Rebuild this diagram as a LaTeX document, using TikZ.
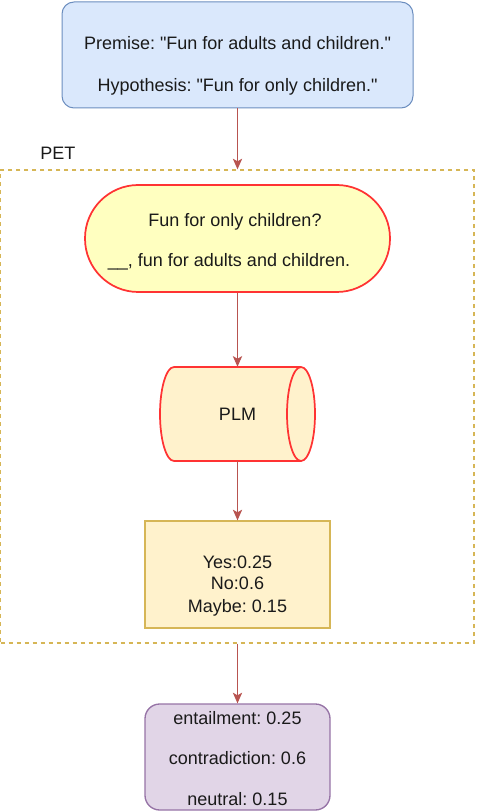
\documentclass[tikz,border=0pt]{standalone}
\usepackage{fontspec}
\setmainfont{Liberation Sans}[Ligatures=TeXOff]
\usetikzlibrary{arrows.meta}
\definecolor{bluefill}{HTML}{DAE8FC}
\definecolor{bluestroke}{HTML}{6C8EBF}
\definecolor{yelfill}{HTML}{FFFFC0}
\definecolor{redstroke}{HTML}{FF3333}
\definecolor{creamfill}{HTML}{FFF2CC}
\definecolor{goldstroke}{HTML}{D6B656}
\definecolor{purplefill}{HTML}{E1D5E7}
\definecolor{purplestroke}{HTML}{9673A6}
\definecolor{arrowred}{HTML}{B85450}
\definecolor{txt}{HTML}{1A1A1A}
\tikzset{
  txtnode/.style={inner sep=0pt, anchor=base, text=txt, font=\fontsize{13.5}{16}\selectfont\frenchspacing},
  box/.style={inner sep=0pt, line width=0.75pt},
  conn/.style={draw=arrowred, line width=0.75pt, -{Stealth[length=8pt,width=7pt,inset=2pt]}},
}
\begin{document}
\begin{tikzpicture}[x=0.75pt,y=0.75pt]
\useasboundingbox (0,0) rectangle (476,-812);
% top box
\node[box, draw=bluestroke, fill=bluefill, rounded corners=9pt,
      minimum width=263.25pt, minimum height=79.5pt] (top) at (237.5,-55) {};
\node[txtnode] (prem) at (237.5,-50) {Premise: "Fun for adults and children."};
\node[txtnode] (hyp) at (237.5,-92) {Hypothesis: "Fun for only children."};
% PET dashed container
\node[box, draw=goldstroke, line width=1pt, dash pattern=on 3pt off 3pt,
      minimum width=355pt, minimum height=354.75pt] (pet) at (237.25,-406.5) {};
\node[txtnode, anchor=base west] (petlabel) at (40,-160) {PET};
% yellow terminator
\node[box, draw=redstroke, fill=yelfill, line width=1.3pt, rounded corners=40pt,
      minimum width=228.75pt, minimum height=80.25pt] (prompt) at (237.5,-238.5) {};
\node[txtnode] (q1) at (235,-227) {Fun for only children?};
\node[txtnode] (q2) at (229,-267) {\_\_, fun for adults and children.};
% cylinder PLM
\fill[creamfill] (174,-367) -- (301,-367)
  arc[start angle=90, end angle=-90, x radius=14, y radius=47]
  -- (174,-461)
  arc[start angle=270, end angle=90, x radius=14, y radius=47] -- cycle;
\draw[redstroke, line width=1.3pt] (301,-367) -- (174,-367)
  arc[start angle=90, end angle=270, x radius=14, y radius=47] -- (301,-461);
\draw[redstroke, line width=1.3pt] (301,-414) ellipse[x radius=14, y radius=47];
\node[inner sep=0pt, minimum width=116.25pt, minimum height=70.5pt] (plm) at (237.5,-414) {};
\node[txtnode] (plmtext) at (237.5,-420) {PLM};
% output rectangle
\node[box, draw=goldstroke, fill=creamfill, line width=1pt,
      minimum width=138.75pt, minimum height=80.25pt] (out) at (237.5,-574.5) {};
\node[txtnode] (yes) at (237.5,-568) {Yes:0.25};
\node[txtnode] (no) at (237.5,-589) {No:0.6};
\node[txtnode] (maybe) at (237.5,-612) {Maybe: 0.15};
% purple result
\node[box, draw=purplestroke, fill=purplefill, rounded corners=11pt, line width=1pt,
      minimum width=138.75pt, minimum height=79.5pt] (res) at (237.5,-757) {};
\node[txtnode] (ent) at (237.5,-724) {entailment: 0.25};
\node[txtnode] (con) at (237.5,-764) {contradiction: 0.6};
\node[txtnode] (neu) at (237.5,-805) {neutral: 0.15};
% connectors
\draw[conn] (top.south) -- (top.south |- pet.north);
\draw[conn] (prompt.south) -- (plm.north);
\draw[conn] (plm.south) -- (out.north);
\draw[conn] (out.south |- pet.south) -- (res.north);
\end{tikzpicture}
\end{document}
